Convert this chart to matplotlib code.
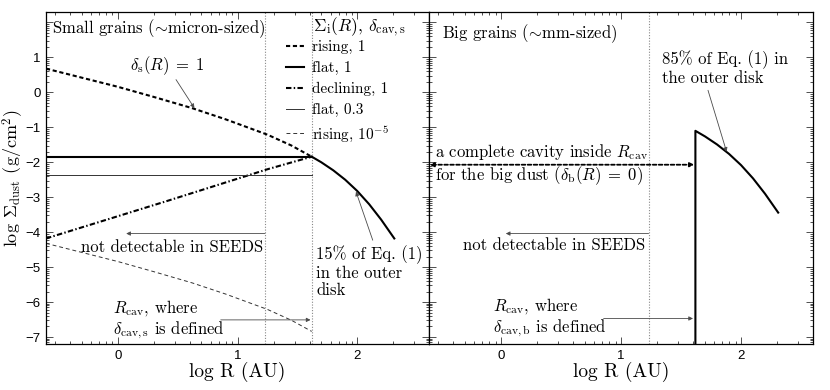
import numpy as np
import matplotlib
matplotlib.use("Agg")
import matplotlib.pyplot as plt
from matplotlib.ticker import FixedLocator, NullFormatter

# ---------------- data (log10 values) ----------------
x_inner = [-0.6, 0.0, 0.3, 0.62, 0.9, 1.25, 1.45, 1.62]
rising_1 = [0.68, 0.16, -0.13, -0.45, -0.77, -1.21, -1.52, -1.84]
rising_1e5 = [-4.32, -4.84, -5.13, -5.45, -5.77, -6.21, -6.52, -6.84]
x_flat = [-0.6, 1.62]
flat_1 = [-1.85, -1.85]
flat_03 = [-2.37, -2.37]
x_decl = [-0.6, 0.4, 1.25, 1.62]
declining_1 = [-4.18, -3.12, -2.2, -1.84]
x_outer = [1.62, 1.7, 1.8, 1.9, 2.0, 2.1, 2.2, 2.31]
outer_small = [-1.84, -2.0, -2.23, -2.5, -2.82, -3.2, -3.64, -4.18]
x_big = [1.62, 1.62, 1.7, 1.8, 1.9, 2.0, 2.1, 2.2, 2.31]
outer_big = [-7.3, -1.1, -1.26, -1.49, -1.76, -2.08, -2.46, -2.9, -3.44]
log_r_seeds = 1.23
log_r_cav = 1.62
cavity_arrow_y = -2.07
legend_labels = ["rising, 1", "flat, 1", "declining, 1", "flat, 0.3", r"rising, $10^{-5}$"]
x_major = [0, 1, 2]
y_major = [-7, -6, -5, -4, -3, -2, -1, 0, 1, 2]
y_labels = ["\u22127", "\u22126", "\u22125", "\u22124", "\u22123", "\u22122", "\u22121", "0", "1", ""]

XLIM = (-0.6, 2.6)
YLIM = (-7.2, 2.3)

plt.rcParams["font.family"] = ["cmr10", "DejaVu Serif"]
plt.rcParams["mathtext.fontset"] = "cm"
plt.rcParams["axes.unicode_minus"] = True

W, H = 830, 390
fig = plt.figure(figsize=(W / 100, H / 100), dpi=100)
ax1 = fig.add_axes([46 / W, 1 - 344 / H, 383 / W, 332 / H])
ax2 = fig.add_axes([429 / W, 1 - 344 / H, 384 / W, 332 / H])

TXT = 12
LEG = 11
GRAY = "#4a4a4a"

def minor_positions(lo, hi):
    pos = []
    for n in range(int(np.floor(lo)) - 1, int(np.ceil(hi)) + 1):
        for k in range(2, 10):
            v = n + np.log10(k)
            if lo < v < hi:
                pos.append(v)
    return pos

def style(ax, ylabels=True):
    ax.set_xlim(*XLIM)
    ax.set_ylim(*YLIM)
    ax.xaxis.set_major_locator(FixedLocator(x_major))
    ax.yaxis.set_major_locator(FixedLocator(y_major))
    ax.xaxis.set_minor_locator(FixedLocator(minor_positions(*XLIM)))
    ax.yaxis.set_minor_locator(FixedLocator(minor_positions(*YLIM)))
    ax.xaxis.set_minor_formatter(NullFormatter())
    ax.yaxis.set_minor_formatter(NullFormatter())
    ax.set_xticklabels([str(v) for v in x_major], fontfamily="Liberation Sans", fontsize=9.5)
    if ylabels:
        ax.set_yticklabels(y_labels, fontfamily="Liberation Sans", fontsize=9.5)
    else:
        ax.set_yticklabels([])
    ax.tick_params(which="both", direction="in", top=True, right=True, width=0.6, color="#333")
    ax.tick_params(which="major", length=5, pad=4)
    ax.tick_params(which="minor", length=2.5)
    for s in ax.spines.values():
        s.set_linewidth(0.9)
    ax.set_xlabel("log R (AU)", fontsize=14, labelpad=0)

arrow = dict(arrowstyle="-|>", color=GRAY, lw=0.6, mutation_scale=6, shrinkA=0, shrinkB=0)

# ---------------- left panel: small grains ----------------
style(ax1)
ax1.set_ylabel(r"log $\Sigma_{\rm dust}$ (g/cm$^2$)", fontsize=13)
ax1.yaxis.set_label_coords(-0.053, 0.5)
for xv in (log_r_seeds, log_r_cav):
    ax1.axvline(xv, color="#888", lw=0.8, ls=(0, (1, 1.5)))

l_rise, = ax1.plot(x_inner, rising_1, color="black", lw=1.5, dashes=(2, 1.3))
l_flat, = ax1.plot(x_flat, flat_1, color="black", lw=1.5)
l_decl, = ax1.plot(x_decl, declining_1, color="black", lw=1.5, dashes=(2.6, 1.1, 0.7, 1.1))
l_flat3, = ax1.plot(x_flat, flat_03, color="#333", lw=0.7)
l_rise5, = ax1.plot(x_inner, rising_1e5, color="#333", lw=0.7, dashes=(4, 3))
ax1.plot(x_outer, outer_small, color="black", lw=1.5)

ax1.text(-0.55, 1.83, r"Small grains ($\!{\sim}\!$micron-sized)", fontsize=TXT, ha="left", va="center")
ax1.text(2.02, 1.85, r"$\Sigma_{\rm i}(R)$, $\delta_{\rm cav,s}$", fontsize=12.5, ha="center", va="center")
leg = ax1.legend([l_rise, l_flat, l_decl, l_flat3, l_rise5], legend_labels,
                 loc="upper left", bbox_to_anchor=(0.627, 0.915), frameon=False,
                 fontsize=LEG, handlelength=1.15, handletextpad=0.55,
                 labelspacing=0.45, borderpad=0, borderaxespad=0)

ax1.annotate(r"$\delta_{\rm s}(R)\;=\;1$", xy=(0.64, -0.45), xytext=(0.41, 0.77),
             fontsize=TXT, ha="center", va="center", arrowprops=arrow)
ax1.annotate("", xy=(0.07, -4.04), xytext=(log_r_seeds, -4.04), arrowprops=arrow)
ax1.text(0.45, -4.42, "not detectable in SEEDS", fontsize=TXT, ha="center", va="center")
ax1.annotate("", xy=(1.99, -2.84), xytext=(2.13, -4.23), arrowprops=arrow)
ax1.text(1.66, -5.13, "15% of Eq. (1)\nin the outer\ndisk", fontsize=TXT, ha="left", va="center",
         linespacing=1.15)
ax1.text(-0.04, -6.49, "$R_{\\rm cav}$, where\n$\\delta_{\\rm cav,s}$ is defined", fontsize=TXT,
         ha="left", va="center", linespacing=1.1)
ax1.annotate("", xy=(1.61, -6.51), xytext=(0.86, -6.51), arrowprops=arrow)

# ---------------- right panel: big grains ----------------
style(ax2, ylabels=False)
ax2.axvline(log_r_seeds, color="#888", lw=0.8, ls=(0, (1, 1.5)))
ax2.plot(x_big, outer_big, color="black", lw=1.5)

ax2.text(-0.49, 1.68, r"Big grains ($\!{\sim}\!$mm-sized)", fontsize=TXT, ha="left", va="center")
ax2.annotate("", xy=(1.88, -1.7), xytext=(1.725, 0.06), arrowprops=arrow)
ax2.text(1.34, 0.69, "85% of Eq. (1) in\nthe outer disk", fontsize=TXT, ha="left", va="center",
         linespacing=1.1)
ax2.annotate("", xy=(XLIM[0] + 0.005, cavity_arrow_y), xytext=(log_r_cav - 0.01, cavity_arrow_y),
             arrowprops=dict(arrowstyle="<|-|>", color="black", lw=1.3, ls=(0, (2, 1.3)),
                             mutation_scale=6, shrinkA=0, shrinkB=0))
ax2.text(-0.55, -2.06, "a complete cavity inside $R_{\\rm cav}$\nfor the big dust ($\\delta_{\\rm b}(R)\\;=\\;0$)",
         fontsize=TXT, ha="left", va="center", linespacing=1.1)
ax2.annotate("", xy=(0.04, -4.04), xytext=(log_r_seeds, -4.04), arrowprops=arrow)
ax2.text(0.44, -4.37, "not detectable in SEEDS", fontsize=TXT, ha="center", va="center")
ax2.text(-0.065, -6.44, "$R_{\\rm cav}$, where\n$\\delta_{\\rm cav,b}$ is defined", fontsize=TXT,
         ha="left", va="center", linespacing=1.1)
ax2.annotate("", xy=(1.6, -6.47), xytext=(0.855, -6.47), arrowprops=arrow)

fig.savefig("out.png", dpi=100)
